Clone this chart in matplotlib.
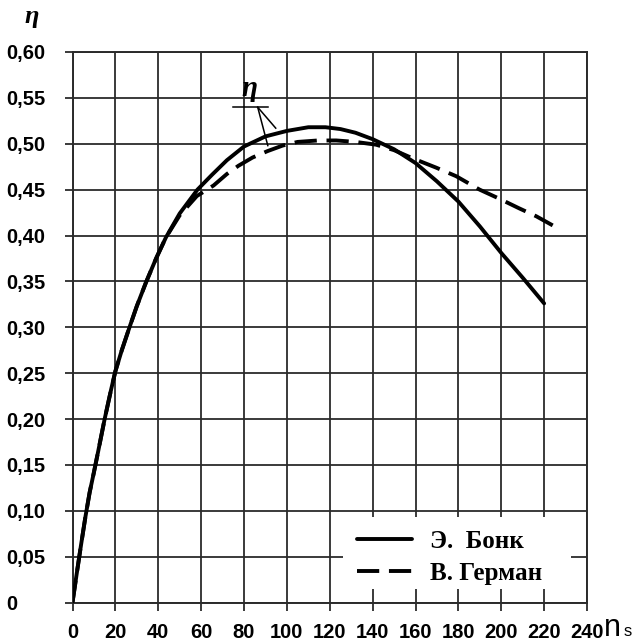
import numpy as np
import matplotlib.pyplot as plt
from matplotlib.patches import Rectangle

# --- data ---
bonk_x = [0, 2, 4, 6, 8, 10, 12, 15, 18, 20, 23, 26.3, 30, 34.3, 39, 43.6, 50, 58.3, 65, 72,
          80, 90, 100, 110, 118, 125, 132, 140, 150, 160, 170, 180, 190, 200, 210, 220]
bonk_y = [0, 0.032, 0.063, 0.093, 0.12, 0.142, 0.165, 0.20, 0.232, 0.252, 0.275, 0.298, 0.323, 0.349,
          0.375, 0.398, 0.424, 0.45, 0.466, 0.482, 0.497, 0.508, 0.514, 0.518, 0.518, 0.516,
          0.512, 0.505, 0.494, 0.479, 0.459, 0.437, 0.41, 0.381, 0.354, 0.326]

german_x = [0, 2, 4, 6, 8, 10, 12, 15, 18, 20, 23, 26.3, 30, 34.3, 39, 43.6, 50, 58, 65.8, 72,
            77.4, 84, 91, 98, 105, 114, 123, 132, 141.6, 150, 158.8, 169.6, 179, 189.9, 199.2,
            208, 216.3, 224]
german_y = [0, 0.032, 0.063, 0.093, 0.12, 0.142, 0.165, 0.20, 0.232, 0.252, 0.275, 0.298, 0.323,
            0.349, 0.375, 0.398, 0.422, 0.443, 0.4545, 0.467, 0.476, 0.485, 0.492, 0.498, 0.502,
            0.5035, 0.5036, 0.502, 0.499, 0.493, 0.484, 0.474, 0.4646, 0.45, 0.44, 0.43, 0.421,
            0.411]

labels = ["Э.  Бонк", "В. Герман"]
x_ticks = np.arange(0, 241, 20)
y_ticks = np.arange(0, 0.601, 0.05)
y_ticklabels = ["0"] + [f"{v:.2f}".replace(".", ",") for v in y_ticks[1:]]

plt.rcParams["lines.scale_dashes"] = False
grid_c = "#2b2b2b"

fig = plt.figure(figsize=(6.42, 6.43), dpi=100)
ax = fig.add_axes([72.5 / 642, 1 - 602.5 / 643, 514.5 / 642, 550.5 / 643])

ax.set_xlim(0, 240)
ax.set_ylim(0, 0.60)
ax.set_xticks(x_ticks)
ax.set_yticks(y_ticks)
ax.set_xticklabels([str(v) for v in x_ticks])
ax.set_yticklabels(y_ticklabels)

ax.grid(True, color=grid_c, linewidth=1.3)
ax.set_axisbelow(True)
for s in ax.spines.values():
    s.set_color(grid_c)
    s.set_linewidth(1.4)

tick_font = dict(family="Liberation Sans", weight="bold", size=14.5)
ax.tick_params(axis="both", direction="out", color=grid_c, width=1.3)
ax.tick_params(axis="y", length=5.5, pad=42)
ax.tick_params(axis="x", length=5.5, pad=9)
for lab in ax.get_xticklabels() + ax.get_yticklabels():
    lab.set_fontproperties(tick_font)
for lab in ax.get_yticklabels():
    lab.set_horizontalalignment("left")

# white box behind legend (no frame)
ax.add_patch(Rectangle((0.526, 0.0245), 0.443, 0.1305, transform=ax.transAxes,
                       facecolor="white", edgecolor="none", zorder=1))

ax.plot(bonk_x, bonk_y, color="black", linewidth=2.8, label=labels[0], zorder=3,
        solid_capstyle="round", solid_joinstyle="round")
ax.plot(german_x, german_y, color="black", linewidth=2.8, linestyle=(0, (16, 7)),
        label=labels[1], zorder=2)

leg = ax.legend(loc="center left", bbox_to_anchor=(0.553, 0.0817), frameon=False,
                prop=dict(family="Liberation Serif", weight="bold", size=18),
                handlelength=2.2, handletextpad=0.7, borderpad=0, borderaxespad=0,
                labelspacing=0.35)
leg.set_zorder(4)

# eta callout
ax.text(82.7, 0.5605, "η", ha="center", va="center", fontsize=21,
        family="Liberation Serif", style="italic", weight="bold")
ax.plot([74.8, 91.1], [0.5398, 0.5398], color="black", linewidth=1.1, zorder=3)
ax.plot([86.4, 91.1], [0.5398, 0.498], color="black", linewidth=1.1, zorder=3)
ax.plot([86.4, 94.8], [0.5398, 0.517], color="black", linewidth=1.1, zorder=3)

# axis names
fig.text(32 / 642, 1 - 17 / 643, "η", ha="center", va="center", fontsize=19,
         family="Liberation Serif", style="italic", weight="bold")
fig.text(604 / 642, 1 - 636 / 643, "n", ha="left", va="baseline", fontsize=22,
         family="Liberation Sans")
fig.text(624 / 642, 1 - 636 / 643, "s", ha="left", va="baseline", fontsize=12,
         family="Liberation Sans")

fig.savefig("out.png", dpi=100)
